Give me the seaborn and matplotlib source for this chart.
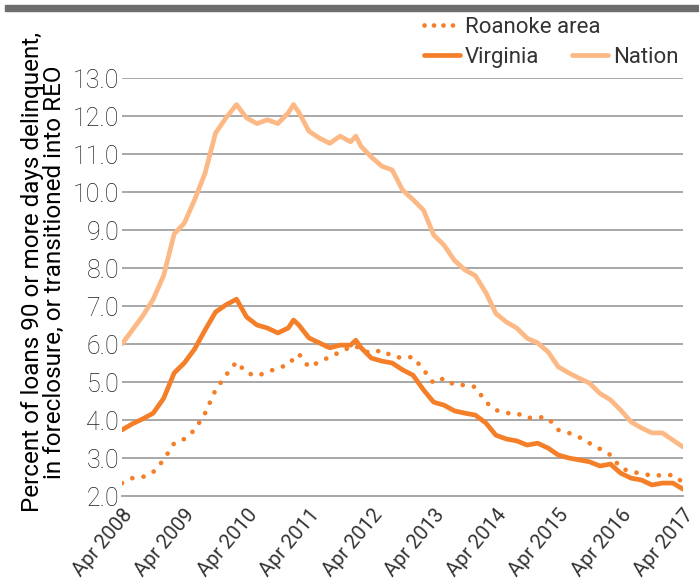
import pandas as pd
import matplotlib
matplotlib.use("Agg")
import matplotlib.pyplot as plt
from matplotlib.lines import Line2D
from matplotlib.patches import Rectangle
import seaborn as sns

# ---- data (months after Apr 2008) ----
months = ([m for m in range(0, 31, 2)] + [32, 33, 34] + [36, 38, 40, 42, 44, 45, 46]
          + [m for m in range(48, 109, 2)])

nation = [6.0, 6.37, 6.74, 7.18, 7.8, 8.9, 9.18, 9.8, 10.5, 11.55, 11.95, 12.3,
          11.95, 11.8, 11.9, 11.8, 12.08, 12.3, 12.1,
          11.6, 11.42, 11.28, 11.47, 11.32, 11.47, 11.2,
          10.92, 10.68, 10.58, 10.05, 9.8, 9.52, 8.87, 8.6, 8.2, 7.95, 7.8, 7.35,
          6.8, 6.58, 6.42, 6.15, 6.03, 5.79, 5.4, 5.24, 5.1, 4.97, 4.7, 4.53,
          4.26, 3.95, 3.79, 3.66, 3.66, 3.47, 3.29]

virginia = [3.74, 3.9, 4.03, 4.18, 4.57, 5.24, 5.5, 5.87, 6.37, 6.84, 7.03, 7.18,
            6.71, 6.5, 6.42, 6.29, 6.42, 6.63, 6.5,
            6.16, 6.03, 5.9, 5.97, 5.97, 6.1, 5.9,
            5.63, 5.55, 5.5, 5.32, 5.18, 4.79, 4.47, 4.39, 4.24, 4.18, 4.13, 3.92,
            3.6, 3.5, 3.45, 3.34, 3.39, 3.26, 3.08, 3.0, 2.95, 2.9, 2.79, 2.84,
            2.6, 2.47, 2.42, 2.29, 2.34, 2.34, 2.18]

roanoke = [2.34, 2.47, 2.5, 2.63, 2.95, 3.39, 3.5, 3.74, 4.18, 4.79, 5.18, 5.53,
           5.24, 5.16, 5.26, 5.37, 5.45, 5.62, 5.74,
           5.39, 5.53, 5.66, 5.79, 5.92, 5.95, 5.84,
           5.76, 5.84, 5.68, 5.63, 5.66, 5.32, 4.97, 5.1, 4.92, 4.92, 4.87, 4.47,
           4.26, 4.18, 4.18, 4.05, 4.08, 4.05, 3.74, 3.66, 3.55, 3.39, 3.24, 3.08,
           2.74, 2.63, 2.6, 2.53, 2.55, 2.55, 2.36]

y_ticks = [2.0, 3.0, 4.0, 5.0, 6.0, 7.0, 8.0, 9.0, 10.0, 11.0, 12.0, 13.0]

start = pd.Timestamp("2008-04-01")
dates = [start + pd.DateOffset(months=m) for m in months]
year_ticks = pd.date_range("2008-04-01", "2017-04-01", freq="12MS")

C_DARK = "#f47f28"
C_LIGHT = "#fdb985"
GRID = "#a8a8a8"
TXT = "#333333"

sns.set_style("white")
plt.rcParams["font.family"] = ["Roboto", "DejaVu Sans"]

fig = plt.figure(figsize=(6.99, 5.83), dpi=100)
ax = fig.add_axes([122 / 699, 1 - 496 / 583, (683 - 122) / 699, (496 - 78) / 583])

sns.lineplot(x=dates, y=nation, color=C_LIGHT, lw=3.4, ax=ax)
sns.lineplot(x=dates, y=virginia, color=C_DARK, lw=3.4, ax=ax)
sns.lineplot(x=dates, y=roanoke, color=C_DARK, lw=3.4, ax=ax)
dot = ax.lines[-1]
dot.set_linestyle((0, (0.01, 2.4)))
dot.set_dash_capstyle("round")
for ln in ax.lines:
    ln.set_solid_capstyle("round")
    ln.set_solid_joinstyle("round")

ax.set_xlim(year_ticks[0], year_ticks[-1])
ax.set_ylim(2.0, 13.0)
ax.set_yticks(y_ticks)
ax.set_yticklabels([f"{v:.1f}" for v in y_ticks], fontsize=18, color="#1e1e1e",
                   fontweight="light")
ax.set_xticks(year_ticks)
ax.set_xticklabels([d.strftime("%b %Y") for d in year_ticks], rotation=50,
                   ha="right", rotation_mode="anchor", fontsize=14.5,
                   color=TXT, fontweight="normal")
ax.tick_params(axis="y", length=0, pad=2)
ax.tick_params(axis="x", length=5, width=1.2, color=GRID, direction="out", pad=2)

ax.grid(axis="y", color=GRID, lw=1.4)
ax.grid(axis="x", visible=False)
for s in ["top", "right", "left"]:
    ax.spines[s].set_visible(False)
ax.spines["bottom"].set_color(GRID)
ax.spines["bottom"].set_linewidth(1.4)
ax.set_xlabel("")
ax.set_ylabel("Percent of loans 90 or more days delinquent,\nin foreclosure, or transitioned into REO",
              fontsize=17.5, color="black", linespacing=0.95)
ax.yaxis.set_label_coords(-0.1, 0.535)

# legend: Roanoke + Virginia stacked, Nation beside Virginia
h_roa = Line2D([], [], color=C_DARK, lw=3.4, linestyle=(0, (0.01, 2.0)),
               dash_capstyle="round")
h_va = Line2D([], [], color=C_DARK, lw=3.4)
h_nat = Line2D([], [], color=C_LIGHT, lw=3.4)
leg_kw = dict(frameon=False, handlelength=1.6, handletextpad=0.25,
              borderpad=0, borderaxespad=0, labelcolor=TXT, prop={"size": 16})
fig.legend([h_roa, h_va], ["Roanoke area", "Virginia"], loc="upper left",
           bbox_to_anchor=(424 / 699, 1 - 17 / 583), labelspacing=0.4, **leg_kw)
fig.legend([h_nat], ["Nation"], loc="upper left",
           bbox_to_anchor=(572 / 699, 1 - 47 / 583), **leg_kw)

# gray band at the very top
fig.patches.append(Rectangle((5 / 699, 1 - 11 / 583), 1, 6 / 583,
                             transform=fig.transFigure, color="#6e6e70", zorder=0))

plt.savefig("out.png", dpi=100)
plt.close()
